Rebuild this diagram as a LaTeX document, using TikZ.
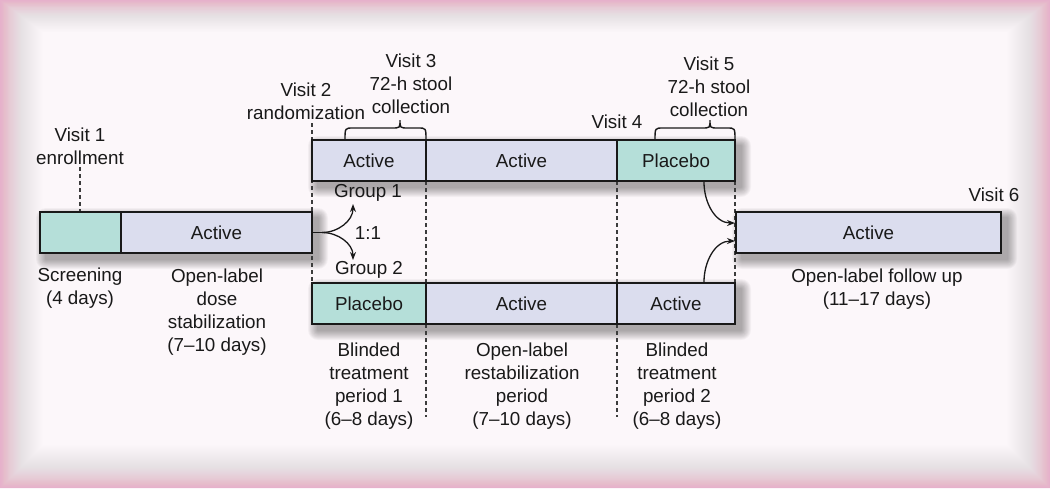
\documentclass[tikz,border=0pt]{standalone}
\usepackage{fontspec}
\setmainfont{Liberation Sans}
\usetikzlibrary{arrows.meta}
\definecolor{bgc}{RGB}{252,247,250}
\definecolor{edgec}{RGB}{230,168,203}
\definecolor{actc}{RGB}{219,221,238}
\definecolor{plac}{RGB}{181,223,217}
\definecolor{ink}{RGB}{25,25,25}
\tikzset{
  bar/.style={draw=ink, line width=2.4pt, inner sep=0pt, text=ink},
  lbl/.style={align=center, text=ink, inner sep=0pt},
  guide/.style={draw=ink!85, line width=1.1pt, dash pattern=on 3.5pt off 3.5pt},
  arr/.style={draw=ink, line width=1.3pt, -{Stealth[length=8pt,width=6pt]}},
  brc/.style={draw=ink, line width=1.4pt},
}
\newcommand\softshadow[4]{%
  \foreach \k in {0,...,9}{%
    \fill[black, opacity=0.034, rounded corners={(10-\k)*1pt}]
      ({#1+6-(10-\k)},{#2+6-(10-\k)}) rectangle ({#3+6+(10-\k)},{#4+6+(10-\k)});
  }}
\begin{document}
\begin{tikzpicture}[x=1pt,y=-1pt,font=\fontsize{18.8}{23}\selectfont]
\useasboundingbox (0,0) rectangle (1050,488);
% background
\fill[bgc] (0,0) rectangle (1050,488);
\foreach \w [evaluate=\w as \op using {0.075*exp(-\w/12)}] in {1,...,64}{
  \fill[edgec, opacity=\op, even odd rule] (0,0) rectangle (1050,488)
    (\w,{0.75*\w}) rectangle ({1050-\w},{488-\w});
}
% shadows
\softshadow{40}{212}{312}{253}
\softshadow{312}{140}{735}{181}
\softshadow{312}{283}{735}{324}
\softshadow{736}{212}{1001}{253}
% guide lines
\draw[guide] (80,167) -- (80,212);
\draw[guide] (312,123) -- (312,283);
\draw[guide] (426,181) -- (426,283);
\draw[guide] (426,324) -- (426,417);
\draw[guide] (617,181) -- (617,283);
\draw[guide] (617,324) -- (617,417);
\draw[guide] (735,181) -- (735,283);
% bars
\node[bar, fill=plac, minimum width=81pt, minimum height=41pt] (scr) at (80.5,232.5) {};
\node[bar, fill=actc, minimum width=191pt, minimum height=41pt] (stab) at (216.5,232.5) {Active};
\node[bar, fill=actc, minimum width=114pt, minimum height=41pt] (t1) at (369,160.5) {Active};
\node[bar, fill=actc, minimum width=191pt, minimum height=41pt] (t2) at (521.5,160.5) {Active};
\node[bar, fill=plac, minimum width=118pt, minimum height=41pt] (t3) at (676,160.5) {Placebo};
\node[bar, fill=plac, minimum width=114pt, minimum height=41pt] (b1) at (369,303.5) {Placebo};
\node[bar, fill=actc, minimum width=191pt, minimum height=41pt] (b2) at (521.5,303.5) {Active};
\node[bar, fill=actc, minimum width=118pt, minimum height=41pt] (b3) at (676,303.5) {Active};
\node[bar, fill=actc, minimum width=265pt, minimum height=41pt] (fu) at (868.5,232.5) {Active};
% labels
\node[lbl] (v1) at (80,146.5) {Visit 1\\enrollment};
\node[lbl] (v2) at (306,101.5) {Visit 2\\randomization};
\node[lbl] (v3) at (411,84) {Visit 3\\72-h stool\\collection};
\node[lbl] (v4) at (617,122) {Visit 4};
\node[lbl] (v5) at (709,86.5) {Visit 5\\72-h stool\\collection};
\node[lbl] (v6) at (994,195) {Visit 6};
\node[lbl] (lscr) at (80,288.5) {Screening\\(4 days)};
\node[lbl] (lstab) at (217,312) {Open-label\\dose\\stabilization\\(7--10 days)};
\node[lbl] (lb1) at (369,386) {Blinded\\treatment\\period 1\\(6--8 days)};
\node[lbl] (lrs) at (522,386) {Open-label\\restabilization\\period\\(7--10 days)};
\node[lbl] (lb2) at (677,386) {Blinded\\treatment\\period 2\\(6--8 days)};
\node[lbl] (lfu) at (877,289) {Open-label follow up\\(11--17 days)};
\node[lbl] (g1) at (368,193) {Group 1};
\node[lbl] (g2) at (369,270) {Group 2};
\node[lbl] (r11) at (368,233) {1:1};
% braces
\draw[brc] (345,140) .. controls (345,128) .. (353,128) -- (392,128)
  .. controls (400,128) .. (400,120) .. controls (400,128) .. (408,128)
  -- (418,128) .. controls (426,128) .. (426,140);
\draw[brc] (655,140) .. controls (655,128) .. (663,128) -- (702,128)
  .. controls (710,128) .. (710,120) .. controls (710,128) .. (718,128)
  -- (727,128) .. controls (735,128) .. (735,140);
% randomization arrows
\coordinate (split) at (322,232.5);
\coordinate (g1tip) at (353,204);
\coordinate (g2tip) at (353,260);
\draw[draw=ink, line width=1.3pt] (stab.east) -- (split);
\draw[arr] (split) to[out=0,in=-90] (g1tip);
\draw[arr] (split) to[out=0,in=90] (g2tip);
% arrows into follow-up
\coordinate (fu1) at (735,223);
\coordinate (fu2) at (735,241);
\draw[arr] (t3.south -| 704,0) to[out=-90,in=180] (fu1);
\draw[arr] (b3.north -| 704,0) to[out=90,in=180] (fu2);
\end{tikzpicture}
\end{document}
